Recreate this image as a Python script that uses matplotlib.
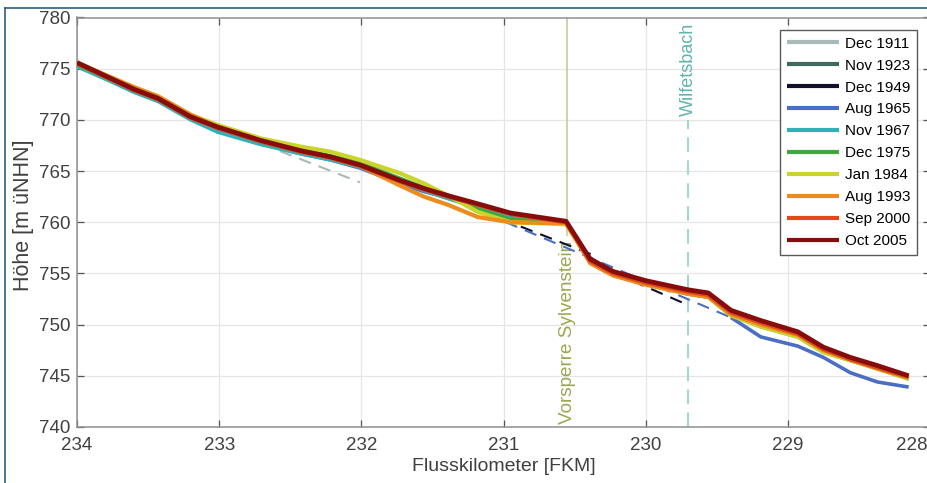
import numpy as np
import matplotlib
matplotlib.use("Agg")
import matplotlib.pyplot as plt
from matplotlib.lines import Line2D
from matplotlib.transforms import ScaledTranslation

plt.rcParams['font.family'] = ['Liberation Sans', 'DejaVu Sans']

N = None
# common river-kilometre grid (FKM)
FKM = [234.0, 233.77, 233.6, 233.43, 233.2, 233.01, 232.71, 232.43, 232.22, 232.01,
       231.73, 231.56, 231.39, 231.18, 230.95, 230.56, 230.39, 230.23, 230.0, 229.70,
       229.56, 229.40, 229.19, 228.93, 228.75, 228.56, 228.37, 228.15]

LABELS = ["Dec 1911", "Nov 1923", "Dec 1949", "Aug 1965", "Nov 1967",
          "Dec 1975", "Jan 1984", "Aug 1993", "Sep 2000", "Oct 2005"]

# measured elevations (m uNHN), None = no measurement
Y_1911 = [775.3, 773.9, 772.8, 771.9, 770.1, 769.0, 767.7] + [N] * 21
Y_1923 = [775.4, 774.0, 772.9, 772.0, 770.2, 769.1, 767.8, 766.8, 766.2, 765.4, 763.9] + [N] * 17
Y_1949 = [775.4, 774.0, 772.9, 772.0, 770.2, 769.1, 767.8, 766.8, 766.2, 765.4, 763.9, 763.3,
          N, N, N, N, 756.5, 755.1] + [N] * 10
Y_1965 = [775.3, 773.9, 772.8, 771.9, 770.1, 769.0, 767.7, 766.7, 766.1, 765.3, 763.8, 763.0, 762.4,
          N, N, N, N, N, N, N, N, 750.7, 748.8, 747.9, 746.8, 745.3, 744.4, 743.9]
Y_1967 = [775.2, 773.8, 772.7, 771.8, 770.0, 768.8, 767.6, 766.7, 766.1, 765.4, 764.0, 763.1, 762.3,
          761.4, 760.5, 759.9, 756.2, 754.9, 754.0, 753.0, 752.7, 750.9, 749.8, 748.8, 747.3, 746.5, 745.7, 744.7]
Y_1975 = [775.4, 774.0, 773.0, 772.1, 770.4, 769.3, 768.0, 767.1, 766.5, 765.8, 764.3, 763.4, 762.5,
          761.3, 760.3, 759.9, 756.2, 754.9, 754.0, 753.0, 752.7, 750.9, 749.9, 748.9, 747.4, 746.5, 745.7, 744.7]
Y_1984 = [775.5, 774.2, 773.2, 772.3, 770.5, 769.5, 768.2, 767.4, 766.9, 766.1, 764.8, 763.8, 762.6,
          761.0, 760.0, 759.8, 756.2, 754.9, 754.0, 753.0, 752.7, 750.9, 749.8, 748.8, 747.3, 746.5, 745.7, 744.7]
Y_1993 = [775.6, 774.2, 773.2, 772.3, 770.5, 769.3, 768.0, 767.0, 766.3, 765.5, 763.6, 762.5, 761.7,
          760.5, 760.0, 759.9, 756.0, 754.8, 753.9, 753.0, 752.7, 751.0, 750.0, 749.0, 747.5, 746.6, 745.7, 744.8]
Y_2000 = [775.5, 774.0, 772.9, 772.0, 770.2, 769.2, 767.9, 766.9, 766.3, 765.5, 764.0, 763.2, 762.5,
          761.7, 760.8, 760.0, 756.2, 755.0, 754.1, 753.2, 752.9, 751.2, 750.2, 749.1, 747.6, 746.6, 745.8, 744.9]
Y_2005 = [775.6, 774.1, 773.0, 772.1, 770.3, 769.3, 768.0, 767.0, 766.4, 765.6, 764.1, 763.3, 762.6,
          761.8, 760.9, 760.1, 756.4, 755.2, 754.3, 753.4, 753.1, 751.4, 750.4, 749.3, 747.8, 746.8, 746.0, 745.0]

# dashed connections across gaps (interpolated in the original figure)
GAP_1911_X = [232.71, 232.01]
GAP_1911_Y = [767.7, 763.9]
GAP_1949A_X = [231.56, 230.37]
GAP_1949A_Y = [763.3, 756.8]
GAP_1949B_X = [230.23, 229.70]
GAP_1949B_Y = [755.1, 751.9]
GAP_1965_X = [231.39, 229.40]
GAP_1965_Y = [762.4, 750.7]

# reference locations
VORSPERRE_FKM = 230.55
WILFETSBACH_FKM = 229.70

X_TICKS = [234, 233, 232, 231, 230, 229, 228]
Y_TICKS = [740, 745, 750, 755, 760, 765, 770, 775, 780]

COLORS = ["#a9b9b9", "#3e6a60", "#10102a", "#4a6ec4", "#2fb2b6",
          "#3fa83f", "#c9d52b", "#ec8b1e", "#e04a1b", "#870c0c"]
WIDTHS = [2.6, 2.6, 2.6, 2.6, 2.6, 2.6, 3.0, 3.0, 3.0, 3.4]

SERIES_Y = [Y_1911, Y_1923, Y_1949, Y_1965, Y_1967, Y_1975, Y_1984, Y_1993, Y_2000, Y_2005]
GAPS = {0: [(GAP_1911_X, GAP_1911_Y)],
        2: [(GAP_1949A_X, GAP_1949A_Y), (GAP_1949B_X, GAP_1949B_Y)],
        3: [(GAP_1965_X, GAP_1965_Y)]}

W, H = 928, 483
fig = plt.figure(figsize=(W / 100, H / 100), dpi=100)
ax = fig.add_axes([77 / W, (H - 427) / H, (930 - 77) / W, (427 - 17.5) / H])

x = np.array(FKM)
handles = []
for i, (lab, ys) in enumerate(zip(LABELS, SERIES_Y)):
    y = np.array([np.nan if v is None else v for v in ys], dtype=float)
    h, = ax.plot(x, y, color=COLORS[i], lw=WIDTHS[i], solid_joinstyle='round',
                 solid_capstyle='butt', zorder=3 + i, label=lab)
    handles.append(h)
    for gx, gy in GAPS.get(i, []):
        ax.plot(gx, gy, color=COLORS[i], lw=1.5, dashes=(6, 4), zorder=3 + i)

# Vorsperre Sylvenstein (solid line, label at bottom)
ax.plot([VORSPERRE_FKM, VORSPERRE_FKM], [758.8, 780], color="#c9c9a2", lw=1.2, zorder=2)
ax.text(VORSPERRE_FKM, 740.25, "Vorsperre Sylvenstein", rotation=90, ha='center', va='bottom',
        color="#9da650", fontsize=13.6, zorder=2)
# Wilfetsbach (dashed line, label at top)
ax.plot([WILFETSBACH_FKM, WILFETSBACH_FKM], [740, 770.0], color="#a3d8d1", lw=1.5,
        dashes=(7, 4), zorder=2)
ax.text(WILFETSBACH_FKM, 779.5, "Wilfetsbach", rotation=90, ha='center', va='top',
        color="#5fb4ab", fontsize=13, zorder=2)

ax.set_xlim(234, 228)
ax.set_ylim(740, 780)
ax.set_xticks(X_TICKS)
ax.set_yticks(Y_TICKS)
ax.grid(True, color="#e6e6e6", lw=0.9, zorder=0)
ax.set_axisbelow(True)
for s in ax.spines.values():
    s.set_color("#8f8f8f")
    s.set_linewidth(1.1)
ax.tick_params(direction='in', length=5, width=0.9, color="#555555", top=True, right=True,
               labelsize=13.5, labelcolor="#404040")
ax.tick_params(axis='x', pad=7)
ax.tick_params(axis='y', pad=5)
ax.set_xlabel("Flusskilometer [FKM]", fontsize=14, color="#404040", labelpad=3)
ax.set_ylabel("Höhe [m üNHN]", fontsize=15.5, color="#404040")
ax.yaxis.set_label_coords(-0.050, 0.518)

# last tick label sits at the cropped right edge: nudge it inside
last = ax.xaxis.get_major_ticks()[-1].label1
last.set_transform(last.get_transform() + ScaledTranslation(-0.18, 0, fig.dpi_scale_trans))

leg = ax.legend(handles=handles, loc='upper right', bbox_to_anchor=(0.985, 0.97),
                borderaxespad=0, fontsize=11, frameon=True, fancybox=False, framealpha=1,
                edgecolor="#5a5a5a", handlelength=3.4, labelspacing=0.52, handletextpad=0.4,
                borderpad=0.45)
leg.get_frame().set_linewidth(1.0)
for lh in leg.get_lines():
    lh.set_linewidth(3.0)
leg.set_zorder(20)

# outer figure frame (top and left edges visible)
fx, fy = 5 / W, 1 - 8 / H
fig.add_artist(Line2D([fx, 1.0], [fy, fy], transform=fig.transFigure, color="#2d5f7e", lw=1.2))
fig.add_artist(Line2D([fx, fx], [0, fy], transform=fig.transFigure, color="#2d5f7e", lw=1.2))

fig.savefig("out.png", dpi=100)
